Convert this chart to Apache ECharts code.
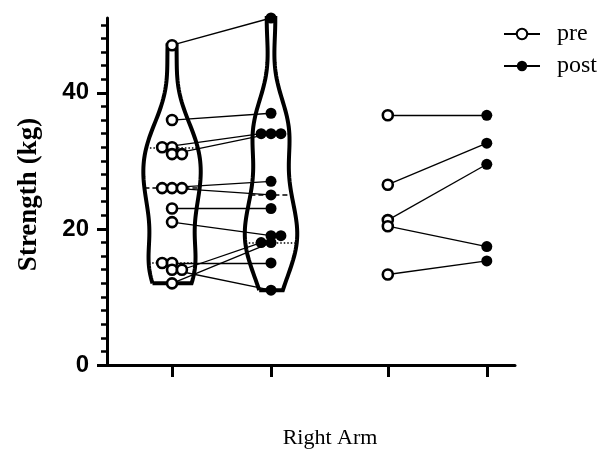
<!DOCTYPE html>
<html><head><meta charset="utf-8">
<script src="https://cdn.jsdelivr.net/npm/echarts@6/dist/echarts.min.js"></script>
<style>html,body{margin:0;padding:0;background:#fff}#c{width:605px;height:455px}</style>
</head><body><div id="c"></div>
<script>
// ---------- data ----------
const seriesNames = ['pre', 'post'];
const xAxisName = 'Right Arm';
const yAxisName = 'Strength (kg)';
const yTickLabels = [0, 20, 40];
// group 1 (with violins): paired values, null = no partner
const preArm1  = [47, 36, 32, 32, 31, 31, 26, 26, 26, 23, 21, 15, 15, 14, 14, 12, null, null];
const postArm1 = [51, 37, 34, null, 34, null, 27, 25, null, 23, 19, 15, null, 11, 18, 18, 34, 19];
// group 2 (points only)
const preArm2  = [36.7, 26.5, 21.3, 20.4, 13.3];
const postArm2 = [36.7, 32.6, 29.5, 17.4, 15.3];
// violin median / quartiles (pre, post)
const violinMedian = [26, 25];
const violinQ1 = [15, 18];
const violinQ3 = [32, 34];

// ---------- layout ----------
const X_POS = [1, 2, 3.18, 4.18];
const X_MIN = 0.343, X_MAX = 4.465;
const Y_MIN = 0, Y_MAX = 51;
const SWARM = 0.1;          // horizontal step for tied values
const BW = 4.6;             // kde bandwidth
const VIOLIN_HALF = [0.29, 0.265];

function swarm(vals, startDir) {
  const off = vals.map(() => 0);
  const groups = {};
  vals.forEach((v, i) => { if (v == null) return; (groups[v] = groups[v] || []).push(i); });
  const keys = Object.keys(groups).map(Number).sort((a, b) => b - a);
  let dir = startDir;
  keys.forEach(k => {
    const idx = groups[k];
    if (idx.length === 2) {
      const base = dir < 0 ? [-1, 0] : [0, 1];
      idx.forEach((i, j) => off[i] = base[j] * SWARM);
      dir = -dir;
    } else if (idx.length > 2) {
      idx.forEach((i, j) => off[i] = (j - (idx.length - 1) / 2) * SWARM);
    }
  });
  return off;
}
function density(vals, y) {
  let s = 0;
  vals.forEach(v => { const z = (y - v) / BW; s += Math.exp(-0.5 * z * z); });
  return s;
}
function violin(vals, cx, half) {
  const v = vals.filter(x => x != null);
  const lo = Math.min(...v), hi = Math.max(...v);
  const N = 160, ys = [];
  for (let i = 0; i <= N; i++) ys.push(lo + (hi - lo) * i / N);
  const ds = ys.map(y => density(v, y));
  const dmax = Math.max(...ds);
  const left = ys.map((y, i) => [cx - half * ds[i] / dmax, y]);
  const right = ys.map((y, i) => [cx + half * ds[i] / dmax, y]).reverse();
  return { path: left.concat(right, [left[0]]), widthAt: y => half * density(v, y) / dmax };
}

const offPre = swarm(preArm1, -1);
const offPost = swarm(postArm1, 1);

const prePts = [], postPts = [], pairLines = [];
preArm1.forEach((v, i) => { if (v != null) prePts.push([X_POS[0] + offPre[i], v]); });
postArm1.forEach((v, i) => { if (v != null) postPts.push([X_POS[1] + offPost[i], v]); });
preArm1.forEach((v, i) => {
  const w = postArm1[i];
  if (v != null && w != null) pairLines.push({ coords: [[X_POS[0] + offPre[i], v], [X_POS[1] + offPost[i], w]] });
});
preArm2.forEach(v => prePts.push([X_POS[2], v]));
postArm2.forEach(v => postPts.push([X_POS[3], v]));
preArm2.forEach((v, i) => pairLines.push({ coords: [[X_POS[2], v], [X_POS[3], postArm2[i]]] }));

const vPre = violin(preArm1, X_POS[0], VIOLIN_HALF[0]);
const vPost = violin(postArm1, X_POS[1], VIOLIN_HALF[1]);
const violins = [vPre, vPost];
const medLines = [], qLines = [];
[0, 1].forEach(k => {
  const cx = X_POS[k], vv = violins[k];
  const m = violinMedian[k];
  medLines.push({ coords: [[cx - vv.widthAt(m), m], [cx + vv.widthAt(m), m]] });
  [violinQ1[k], violinQ3[k]].forEach(q => qLines.push({ coords: [[cx - vv.widthAt(q), q], [cx + vv.widthAt(q), q]] }));
});

const minorTicks = [];
for (let t = Y_MIN; t <= 50; t += 2) minorTicks.push(t);

const chart = echarts.init(document.getElementById('c'), null, { renderer: 'canvas' });
chart.setOption({
  animation: false,
  backgroundColor: '#fff',
  grid: { left: 107, right: 90, top: 18, bottom: 90, containLabel: false, outerBoundsMode: 'none' },
  legend: {
    data: seriesNames, orient: 'vertical', left: 503, top: 22, padding: 0,
    itemWidth: 36, itemHeight: 13, itemGap: 8, selectedMode: false,
    textStyle: { fontFamily: 'Liberation Serif', fontSize: 24, color: '#000', padding: [0, 0, 0, 12] }
  },
  xAxis: {
    type: 'value', min: X_MIN, max: X_MAX,
    axisLine: { show: true, onZero: false, lineStyle: { color: '#000', width: 3 } },
    axisTick: { show: true, customValues: X_POS, length: 12, lineStyle: { color: '#000', width: 3 } },
    axisLabel: { show: false }, splitLine: { show: false },
    name: xAxisName, nameLocation: 'middle', nameGap: 62,
    nameTextStyle: { fontFamily: 'Liberation Serif', fontSize: 22, color: '#000', padding: [0, 0, 0, 38] }
  },
  yAxis: [{
    type: 'value', min: Y_MIN, max: Y_MAX,
    axisLine: { show: true, onZero: false, lineStyle: { color: '#000', width: 3 } },
    axisTick: { show: true, customValues: yTickLabels, length: 10, lineStyle: { color: '#000', width: 3 } },
    axisLabel: { customValues: yTickLabels, fontFamily: 'Liberation Sans', fontWeight: 'bold', fontSize: 24, color: '#000', margin: 18 },
    splitLine: { show: false },
    name: yAxisName, nameLocation: 'middle', nameGap: 64, nameRotate: 90,
    nameTextStyle: { fontFamily: 'Liberation Serif', fontWeight: 'bold', fontSize: 27, color: '#000', padding: [0, 6, 0, 0] }
  }, {
    type: 'value', min: Y_MIN, max: Y_MAX, position: 'left', offset: 0,
    axisLine: { show: false },
    axisTick: { show: true, customValues: minorTicks, length: 6, lineStyle: { color: '#000', width: 2.5 } },
    axisLabel: { show: false }, splitLine: { show: false }
  }],
  series: [
    { type: 'line', name: 'violinPre', data: vPre.path, showSymbol: false, symbol: 'none', silent: true, z: 1,
      lineStyle: { color: '#000', width: 4, join: 'miter' } },
    { type: 'line', name: 'violinPost', data: vPost.path, showSymbol: false, symbol: 'none', silent: true, z: 1,
      lineStyle: { color: '#000', width: 4, join: 'miter' } },
    { type: 'lines', coordinateSystem: 'cartesian2d', data: pairLines, z: 2, silent: true,
      lineStyle: { color: '#000', width: 1.3, opacity: 1, curveness: 0 } },
    { type: 'lines', coordinateSystem: 'cartesian2d', data: medLines, z: 2, silent: true,
      lineStyle: { color: '#000', width: 1.5, opacity: 1, type: [5, 3] } },
    { type: 'lines', coordinateSystem: 'cartesian2d', data: qLines, z: 2, silent: true,
      lineStyle: { color: '#000', width: 1.5, opacity: 1, type: [1.5, 2] } },
    { type: 'scatter', name: 'prePoints', data: prePts, symbol: 'circle', symbolSize: 10, z: 4,
      itemStyle: { color: '#fff', borderColor: '#000', borderWidth: 2.6, opacity: 1 } },
    { type: 'scatter', name: 'postPoints', data: postPts, symbol: 'circle', symbolSize: 11, z: 3,
      itemStyle: { color: '#000', opacity: 1 } },
    { type: 'line', name: 'pre', data: [], symbol: 'emptyCircle', lineStyle: { color: '#000', width: 1.5 }, itemStyle: { color: '#000' } },
    { type: 'line', name: 'post', data: [], symbol: 'circle', lineStyle: { color: '#000', width: 1.5 }, itemStyle: { color: '#000' } }
  ]
});
</script></body></html>
